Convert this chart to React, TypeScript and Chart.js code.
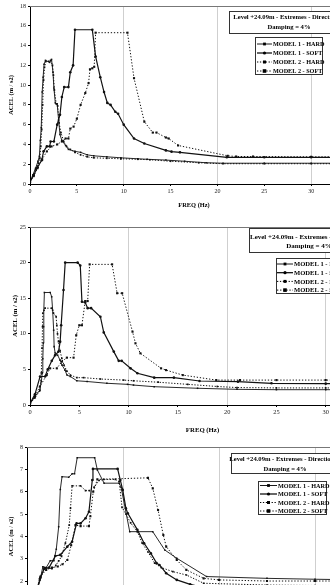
import { useEffect, useRef } from 'react';
import { Chart, registerables } from 'chart.js';

Chart.register(...registerables);

// ---- shared labels ----
const SERIES_NAMES = ['MODEL 1 - HARD', 'MODEL 1 - SOFT', 'MODEL 2 - HARD', 'MODEL 2 - SOFT'];
const BOX_TITLE = ['Level +24.09m - Extremes - Direction X', 'Damping = 4%'];
const X_TITLE = 'FREQ (Hz)';
const Y_TITLE = 'ACEL (m / s2)';
const FREQ_MAX = 35;
const FREQ_STEP = 5;

// ---- chart 1 ----
const c1Y = { max: 18, step: 2 };
const c1M1HardF = [0, 0.3, 0.6, 0.85, 1.0, 1.1, 1.2, 1.3, 1.4, 1.5, 1.65, 2.1, 2.3, 2.45, 2.55, 2.7, 2.9, 3.05, 3.2, 3.4, 3.8, 4.1, 4.8, 5.4, 6.1, 6.8, 8.2, 9.7, 11.5, 12.5, 14.5, 16.5, 18.8, 20.6, 25, 30, 35];
const c1M1HardA = [0.2, 0.9, 1.6, 2.3, 2.8, 4.4, 5.7, 9.3, 10.8, 12.1, 12.5, 12.3, 12.6, 11.3, 9.7, 8.2, 8.1, 6.5, 5.0, 4.4, 3.9, 3.5, 3.3, 3.2, 2.95, 2.85, 2.75, 2.65, 2.55, 2.5, 2.42, 2.3, 2.15, 2.1, 2.1, 2.1, 2.1];
const c1M1SoftF = [0, 0.4, 0.8, 1.25, 1.45, 1.8, 2.1, 2.2, 2.55, 2.9, 3.2, 3.4, 3.65, 4.1, 4.3, 4.6, 4.8, 6.65, 7.0, 7.5, 7.9, 8.25, 8.6, 9.1, 9.4, 10.0, 11.1, 12.2, 14.5, 15.1, 16.0, 21.0, 25, 30, 35];
const c1M1SoftA = [0.2, 0.9, 1.7, 2.4, 3.3, 3.8, 3.8, 4.3, 4.3, 6.0, 7.0, 8.8, 9.8, 9.8, 11.3, 12.0, 15.6, 15.6, 12.9, 10.8, 9.3, 8.2, 8.0, 7.3, 7.1, 6.0, 4.6, 4.1, 3.4, 3.27, 3.2, 2.7, 2.7, 2.7, 2.7];
const c1M2HardF = [0, 0.3, 0.6, 0.9, 1.05, 1.15, 1.25, 1.35, 1.45, 1.55, 1.7, 2.0, 2.2, 2.4, 2.5, 2.6, 2.8, 2.95, 3.1, 3.3, 3.6, 3.9, 4.3, 4.8, 5.4, 6.1, 6.8, 8.2, 9.7, 11.5, 12.8, 15, 18, 20.6, 25, 30, 35];
const c1M2HardA = [0.2, 0.8, 1.5, 2.1, 2.6, 3.8, 5.5, 8.0, 10.5, 11.8, 12.4, 12.4, 12.5, 12.0, 11.0, 9.5, 8.1, 7.9, 6.2, 5.2, 4.3, 3.8, 3.5, 3.2, 2.95, 2.75, 2.65, 2.6, 2.55, 2.5, 2.45, 2.3, 2.15, 2.05, 2.05, 2.05, 2.05];
const c1M2SoftF = [0, 0.4, 0.8, 1.3, 1.8, 2.3, 2.9, 3.4, 3.8, 4.1, 4.3, 4.65, 5.0, 5.4, 5.9, 6.25, 6.4, 6.65, 6.85, 7.0, 10.4, 11.1, 12.2, 13.1, 13.5, 14.5, 14.8, 15.8, 21.1, 22.0, 23.8, 30, 35];
const c1M2SoftA = [0.2, 0.8, 1.6, 2.5, 3.3, 3.8, 4.0, 4.3, 4.6, 4.6, 5.6, 5.8, 6.6, 8.0, 9.2, 10.2, 11.6, 11.7, 11.85, 15.3, 15.3, 10.7, 6.3, 5.2, 5.2, 4.7, 4.6, 3.9, 2.85, 2.78, 2.78, 2.75, 2.75];

// ---- chart 2 ----
const c2Y = { max: 25, step: 5 };
const c2M1HardF = [0, 0.5, 1.0, 1.15, 1.25, 1.3, 1.35, 1.38, 1.42, 1.46, 2.05, 2.2, 2.3, 2.4, 2.45, 2.55, 2.8, 3.05, 3.25, 3.55, 3.75, 4.1, 4.75, 5.8, 7.8, 9.9, 10.5, 12.6, 17, 21, 25, 30, 35];
const c2M1HardA = [0.2, 1.2, 2.1, 3.3, 4.5, 6.5, 8.7, 11.0, 13.3, 15.8, 15.8, 15.2, 13.3, 10.5, 8.2, 7.3, 7.0, 6.3, 5.6, 4.9, 4.2, 4.0, 3.4, 3.3, 3.05, 2.9, 2.8, 2.57, 2.35, 2.2, 2.15, 2.15, 2.15];
const c2M1SoftF = [0, 0.5, 1.02, 1.53, 1.8, 2.21, 2.55, 2.89, 3.06, 3.16, 3.4, 3.57, 4.83, 5.1, 5.27, 5.6, 5.85, 6.2, 7.14, 7.48, 8.5, 9.0, 9.3, 10.2, 10.9, 12.6, 14.6, 17.2, 21.1, 24.5, 30, 35];
const c2M1SoftA = [0.2, 1.5, 4.0, 4.0, 5.0, 6.2, 7.0, 7.5, 8.9, 11.2, 16.15, 20.0, 20.0, 19.6, 14.5, 14.4, 13.6, 13.6, 12.4, 10.2, 7.5, 6.2, 6.2, 5.15, 4.45, 3.84, 3.84, 3.37, 3.28, 3.05, 3.0, 3.0];
const c2M2HardF = [0, 0.5, 1.0, 1.15, 1.22, 1.27, 1.3, 1.53, 2.21, 2.38, 2.65, 2.72, 2.79, 2.89, 3.05, 3.23, 3.45, 3.74, 4.1, 4.76, 5.44, 7.14, 9.5, 10.5, 13, 16, 19, 21, 25, 30, 35];
const c2M2HardA = [0.2, 1.0, 2.0, 4.5, 8.0, 11.0, 12.9, 13.6, 13.6, 12.9, 12.4, 11.2, 10.0, 8.9, 7.6, 6.55, 5.6, 4.77, 4.2, 3.84, 3.84, 3.65, 3.5, 3.4, 3.2, 2.9, 2.6, 2.45, 2.4, 2.4, 2.4];
const c2M2SoftF = [0, 0.5, 1.0, 1.7, 2.04, 2.72, 3.23, 3.74, 4.42, 4.69, 5.0, 5.27, 5.6, 5.85, 6.05, 8.33, 8.84, 9.35, 10.4, 10.7, 11.2, 13.3, 13.8, 15.5, 18.9, 21.3, 25, 30, 35];
const c2M2SoftA = [0.2, 1.2, 2.6, 4.2, 5.15, 5.15, 6.1, 6.65, 6.65, 9.8, 11.2, 11.2, 14.6, 14.6, 19.75, 19.75, 15.7, 15.7, 10.3, 8.66, 7.26, 5.15, 4.9, 4.2, 3.5, 3.5, 3.5, 3.5, 3.5];

// ---- chart 3 ----
const c3Y = { max: 8, step: 1 };
const c3M1HardF = [0, 0.5, 1.0, 1.37, 1.65, 2.0, 2.42, 2.8, 3.05, 3.3, 3.47, 3.65, 4.35, 4.7, 4.95, 5.23, 7.05, 7.33, 8.03, 9.6, 9.8, 10.7, 13.1, 14.35, 15.6, 18.7, 25, 30, 35];
const c3M1HardA = [0, 0.8, 1.5, 2.05, 2.64, 2.6, 2.91, 2.91, 3.42, 4.43, 6.1, 6.67, 6.65, 6.8, 6.8, 7.52, 7.52, 6.97, 6.38, 6.38, 6.2, 4.21, 4.21, 3.39, 3.02, 2.2, 2.12, 2.08, 2.05];
const c3M1SoftF = [0, 0.5, 1.0, 1.4, 1.8, 2.3, 2.95, 3.47, 4.2, 4.7, 5.16, 5.58, 6.1, 6.45, 6.8, 6.87, 9.44, 9.72, 9.97, 10.3, 10.5, 11.5, 12.2, 12.9, 13.5, 13.8, 14.5, 15.6, 17, 18.5, 25, 30, 35];
const c3M1SoftA = [0, 0.8, 1.6, 2.15, 2.55, 2.6, 3.12, 3.17, 3.54, 3.76, 4.58, 4.58, 4.81, 5.1, 6.52, 7.02, 7.02, 6.52, 6.08, 5.26, 5.03, 4.29, 3.69, 3.24, 2.8, 2.72, 2.35, 2.05, 1.85, 1.7, 1.65, 1.62, 1.6];
const c3M2HardF = [0, 0.5, 1.0, 1.3, 1.8, 2.6, 3.0, 3.3, 3.6, 4.0, 4.4, 4.53, 4.7, 5.58, 6.1, 6.5, 7.0, 7.5, 8.0, 9.2, 9.6, 9.9, 10.3, 10.8, 11.5, 12.0, 12.6, 13.3, 14.0, 15.2, 16.6, 18.4, 25, 30, 35];
const c3M2HardA = [0, 0.8, 1.5, 2.1, 2.6, 2.55, 2.7, 2.9, 3.1, 3.7, 4.5, 5.26, 6.26, 6.26, 6.05, 6.05, 6.2, 6.5, 6.55, 6.55, 6.45, 5.3, 5.0, 4.6, 4.2, 3.7, 3.3, 2.8, 2.6, 2.42, 2.27, 1.9, 1.82, 1.8, 1.8];
const c3M2SoftF = [0, 0.5, 1.0, 1.4, 2.0, 2.6, 3.2, 3.7, 4.2, 4.6, 5.05, 5.58, 6.45, 6.6, 6.9, 7.33, 12.6, 13.1, 13.65, 14.2, 14.5, 15.6, 16.6, 18.4, 20, 25, 30, 35];
const c3M2SoftA = [0, 0.8, 1.5, 2.2, 2.5, 2.6, 2.65, 2.75, 2.94, 3.6, 4.5, 4.46, 4.46, 4.9, 6.0, 6.55, 6.62, 6.15, 5.18, 4.06, 3.54, 2.94, 2.5, 2.12, 2.05, 2.0, 2.0, 2.0];

// line styles for the four models
const SERIES_STYLES = [
  { borderWidth: 0.9, borderDash: [] as number[], pointStyle: 'rect', pointRadius: 1.1 },
  { borderWidth: 1.2, borderDash: [] as number[], pointStyle: 'circle', pointRadius: 1.3 },
  { borderWidth: 1.0, borderDash: [1.3, 1.6], pointStyle: 'rect', pointRadius: 1.2 },
  { borderWidth: 1.0, borderDash: [1.3, 1.8], pointStyle: 'rect', pointRadius: 1.5 },
];

type Box = { x: number; y: number; w: number; h: number };
type Layout = {
  top: number; left: number; width: number; height: number;
  padTop: number; padRight: number; yAxisW: number; xAxisH: number;
  yTitlePad: number; xTitlePad: number; fontScale: number;
  title: Box & { line1: number; gap: number };
  legend: Box & { row1: number; gap: number; sampleX: number; sampleW: number; textX: number };
};

function makeBoxesPlugin(L: Layout) {
  return {
    id: 'boxes',
    afterDraw(chart: any) {
      const ctx: CanvasRenderingContext2D = chart.ctx;
      const { left, top, right } = chart.chartArea;
      ctx.save();
      // upper frame edge
      ctx.strokeStyle = '#777';
      ctx.lineWidth = 1;
      ctx.beginPath();
      ctx.moveTo(left, Math.round(top) + 0.5);
      ctx.lineTo(right, Math.round(top) + 0.5);
      ctx.stroke();

      // heading box
      const t = L.title;
      ctx.fillStyle = '#fff';
      ctx.fillRect(t.x, t.y, t.w, t.h);
      ctx.strokeStyle = '#333';
      ctx.strokeRect(t.x + 0.5, t.y + 0.5, t.w, t.h);
      ctx.fillStyle = '#000';
      ctx.font = `bold ${6.6 * L.fontScale}px "Liberation Serif"`;
      ctx.textAlign = 'center';
      ctx.textBaseline = 'middle';
      BOX_TITLE.forEach((s, i) => ctx.fillText(s, t.x + t.w / 2, t.y + t.line1 + i * t.gap));

      // legend box
      const g = L.legend;
      ctx.fillStyle = '#fff';
      ctx.fillRect(g.x, g.y, g.w, g.h);
      ctx.strokeStyle = '#333';
      ctx.strokeRect(g.x + 0.5, g.y + 0.5, g.w, g.h);
      ctx.font = `bold ${6.2 * L.fontScale}px "Liberation Serif"`;
      ctx.textAlign = 'left';
      chart.data.datasets.forEach((ds: any, i: number) => {
        const y = g.y + g.row1 + i * g.gap;
        const x0 = g.x + g.sampleX;
        ctx.strokeStyle = '#000';
        ctx.lineWidth = ds.borderWidth;
        ctx.setLineDash(ds.borderDash);
        ctx.beginPath();
        ctx.moveTo(x0, y);
        ctx.lineTo(x0 + g.sampleW, y);
        ctx.stroke();
        ctx.setLineDash([]);
        ctx.fillStyle = '#000';
        const r = ds.pointRadius + 0.3;
        const cx = x0 + g.sampleW / 2;
        if (ds.pointStyle === 'circle') {
          ctx.beginPath();
          ctx.arc(cx, y, r, 0, Math.PI * 2);
          ctx.fill();
        } else {
          ctx.fillRect(cx - r, y - r, r * 2, r * 2);
        }
        ctx.fillText(ds.label, g.x + g.textX, y + 0.5);
      });
      ctx.restore();
    },
  };
}

type Props = {
  layout: Layout;
  yRange: { max: number; step: number };
  series: [number[], number[]][];
};

function SpectrumChart({ layout: L, yRange, series }: Props) {
  const ref = useRef<HTMLCanvasElement | null>(null);
  useEffect(() => {
    if (!ref.current) return;
    const tickFont = { family: '"Liberation Serif"', size: 6 * L.fontScale };
    const titleFont = { family: '"Liberation Serif"', size: 6.4 * L.fontScale, weight: 'bold' as const };
    const chart = new Chart(ref.current, {
      type: 'line',
      data: {
        datasets: series.map(([f, a], i) => ({
          label: SERIES_NAMES[i],
          data: f.map((x, k) => ({ x, y: a[k] })),
          borderColor: '#111',
          backgroundColor: '#111',
          pointBackgroundColor: '#111',
          pointBorderWidth: 0,
          borderWidth: SERIES_STYLES[i].borderWidth,
          borderDash: SERIES_STYLES[i].borderDash,
          pointStyle: SERIES_STYLES[i].pointStyle as any,
          pointRadius: SERIES_STYLES[i].pointRadius,
          tension: 0,
          fill: false,
        })),
      },
      options: {
        responsive: false,
        animation: false,
        devicePixelRatio: 1,
        layout: { padding: { top: L.padTop, right: L.padRight, left: 0, bottom: 0 } },
        plugins: { legend: { display: false }, tooltip: { enabled: false } },
        scales: {
          x: {
            type: 'linear',
            min: 0,
            max: FREQ_MAX,
            afterFit: (s: any) => { s.height = L.xAxisH; },
            ticks: { stepSize: FREQ_STEP, font: tickFont, color: '#222', padding: 2, maxRotation: 0 },
            grid: {
              color: (c: any) => (c.tick && c.tick.value > 0 && c.tick.value % 10 === 0 ? '#cfcfcf' : 'rgba(0,0,0,0)'),
              tickColor: '#000',
              tickLength: 2,
              lineWidth: 1,
            },
            border: { color: '#000', width: 1 },
            title: { display: true, text: X_TITLE, font: titleFont, color: '#000', padding: { top: 0, bottom: L.xTitlePad } },
          },
          y: {
            min: 0,
            max: yRange.max,
            afterFit: (s: any) => { s.width = L.yAxisW; },
            ticks: { stepSize: yRange.step, font: tickFont, color: '#222', padding: 2 },
            grid: { color: 'rgba(0,0,0,0)', tickColor: '#000', tickLength: 2 },
            border: { color: '#000', width: 1 },
            title: { display: true, text: Y_TITLE, font: titleFont, color: '#000', padding: { top: L.yTitlePad, bottom: 0 } },
          },
        },
      },
      plugins: [makeBoxesPlugin(L)],
    });
    return () => chart.destroy();
  }, [L, yRange, series]);
  return (
    <canvas
      ref={ref}
      width={L.width}
      height={L.height}
      style={{ position: 'absolute', left: L.left, top: L.top, width: L.width, height: L.height }}
    />
  );
}

const layout1: Layout = {
  top: 0, left: 0, width: 400, height: 215,
  padTop: 6, padRight: 42, yAxisW: 30, xAxisH: 31, yTitlePad: 8, xTitlePad: 6, fontScale: 1,
  title: { x: 229, y: 11, w: 120, h: 22, line1: 6, gap: 10 },
  legend: { x: 255, y: 37, w: 67, h: 37, row1: 7, gap: 9, sampleX: 2, sampleW: 15, textX: 18 },
};
const layout2: Layout = {
  top: 215, left: 0, width: 420, height: 225,
  padTop: 12, padRight: 45, yAxisW: 30, xAxisH: 35, yTitlePad: 11, xTitlePad: 6, fontScale: 1.06,
  title: { x: 249, y: 13, w: 120, h: 24, line1: 9.5, gap: 9 },
  legend: { x: 276, y: 43, w: 72, h: 35, row1: 6, gap: 8.7, sampleX: 1, sampleW: 16, textX: 18 },
};
const layout3: Layout = {
  top: 430, left: 0, width: 400, height: 230,
  padTop: 17, padRight: 37, yAxisW: 27, xAxisH: 34.3, yTitlePad: 8, xTitlePad: 6, fontScale: 1,
  title: { x: 231, y: 23, w: 108, h: 20, line1: 6, gap: 10 },
  legend: { x: 258, y: 51, w: 68, h: 33, row1: 4.5, gap: 8.5, sampleX: 2, sampleW: 17, textX: 20 },
};

const series1: [number[], number[]][] = [[c1M1HardF, c1M1HardA], [c1M1SoftF, c1M1SoftA], [c1M2HardF, c1M2HardA], [c1M2SoftF, c1M2SoftA]];
const series2: [number[], number[]][] = [[c2M1HardF, c2M1HardA], [c2M1SoftF, c2M1SoftA], [c2M2HardF, c2M2HardA], [c2M2SoftF, c2M2SoftA]];
const series3: [number[], number[]][] = [[c3M1HardF, c3M1HardA], [c3M1SoftF, c3M1SoftA], [c3M2HardF, c3M2HardA], [c3M2SoftF, c3M2SoftA]];

export default function App() {
  return (
    <div style={{ position: 'fixed', left: 0, top: 0, width: 330, height: 585, overflow: 'hidden', background: '#fff' }}>
      <SpectrumChart layout={layout1} yRange={c1Y} series={series1} />
      <SpectrumChart layout={layout2} yRange={c2Y} series={series2} />
      <SpectrumChart layout={layout3} yRange={c3Y} series={series3} />
    </div>
  );
}
